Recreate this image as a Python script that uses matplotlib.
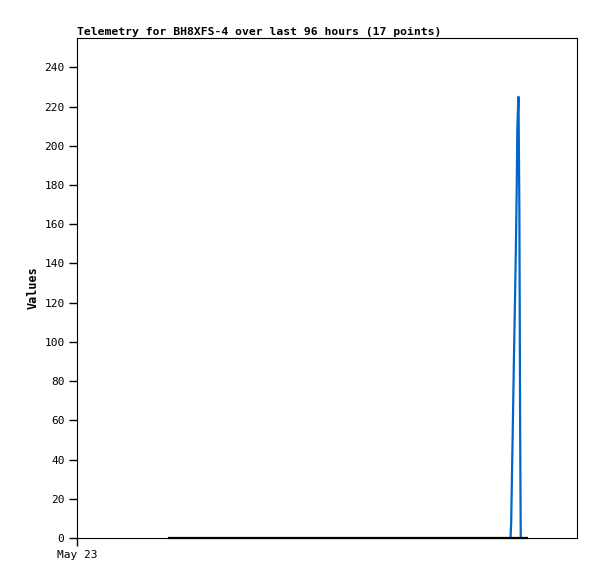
import pandas as pd
import matplotlib
matplotlib.use("Agg")
import matplotlib.pyplot as plt
import matplotlib.dates as mdates

TITLE = 'Telemetry for BH8XFS-4 over last 96 hours (17 points)'
START = '2025-05-23 00:00'
END = '2025-05-27 00:00'

# flat series (black)
flat_times = ['2025-05-23 17:28', '2025-05-24 18:48', '2025-05-25 23:36', '2025-05-26 14:36']
flat_values = [0, 0, 0, 0]

# spike series (blue)
spike_times = ['2025-05-26 11:14', '2025-05-26 11:22', '2025-05-26 11:31', '2025-05-26 11:43',
               '2025-05-26 11:54', '2025-05-26 12:06', '2025-05-26 12:17', '2025-05-26 12:26',
               '2025-05-26 12:33', '2025-05-26 12:46', '2025-05-26 12:56', '2025-05-26 13:05',
               '2025-05-26 13:12']
spike_values = [0, 8, 32, 63, 93, 122, 151, 180, 210, 225, 168, 56, 0]

yticks = list(range(0, 241, 20))

plt.rcParams['font.family'] = ['DejaVu Sans Mono']

fig = plt.figure(figsize=(5.97, 5.79), dpi=100)
ax = fig.add_axes([77 / 597, 1 - 538 / 579, 500 / 597, 500 / 579])

ax.plot(pd.to_datetime(spike_times), spike_values, color='#0066cc', lw=1.6)
ax.plot(pd.to_datetime(flat_times), flat_values, color='black', lw=1.6,
        solid_capstyle='butt', clip_on=False, zorder=3)

ax.set_xlim(pd.Timestamp(START), pd.Timestamp(END))
ax.set_ylim(0, 255)
ax.set_yticks(yticks)
ax.set_xticks([pd.Timestamp(START)])
ax.xaxis.set_major_formatter(mdates.DateFormatter('%b %d'))

ax.tick_params(direction='out', length=6, width=1, labelsize=8, pad=3)
for s in ax.spines.values():
    s.set_linewidth(0.8)

ax.set_ylabel('Values', fontsize=8.5, fontweight='bold', labelpad=3)
ax.set_title(TITLE, fontsize=8.2, fontweight='bold', loc='left', pad=2)

fig.savefig('out.png', dpi=100)
